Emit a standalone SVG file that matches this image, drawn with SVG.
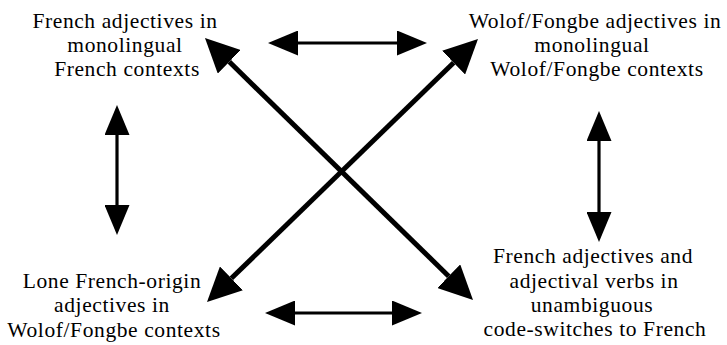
<svg xmlns="http://www.w3.org/2000/svg" width="727" height="345" viewBox="0 0 727 345">
<style>
.t{font-family:'Liberation Serif',Tinos,'DejaVu Serif',serif;font-size:21.5px;letter-spacing:0.6px;fill:#000;text-anchor:middle}
.thin{stroke:#000;stroke-width:3.2;fill:none}
.thick{stroke:#000;stroke-width:5;fill:none}
</style>
<defs>
<marker id="hs" markerUnits="userSpaceOnUse" viewBox="0 0 30 25" refX="0" refY="12.5" markerWidth="30" markerHeight="25" orient="auto-start-reverse"><path d="M0,0 L30,12.5 L0,25 z" fill="#000"/></marker>
<marker id="hl" markerUnits="userSpaceOnUse" viewBox="0 0 34 33" refX="0" refY="16.5" markerWidth="34" markerHeight="33" orient="auto-start-reverse"><path d="M0,0 L34,16.5 L0,33 z" fill="#000"/></marker>
</defs>
<g id="n1" class="t" font-family="Liberation Serif, serif">
<text x="125" y="28">French adjectives in</text>
<text x="125" y="52">monolingual</text>
<text x="127" y="76">French contexts</text>
</g>
<g id="n2" class="t" font-family="Liberation Serif, serif">
<text x="595" y="28">Wolof/Fongbe adjectives in</text>
<text x="592" y="52">monolingual</text>
<text x="597" y="76">Wolof/Fongbe contexts</text>
</g>
<g id="n3" class="t" font-family="Liberation Serif, serif">
<text x="112" y="288">Lone French-origin</text>
<text x="112" y="312">adjectives in</text>
<text x="114" y="337">Wolof/Fongbe contexts</text>
</g>
<g id="n4" class="t" font-family="Liberation Serif, serif">
<text x="593" y="263">French adjectives and</text>
<text x="594" y="288">adjectival verbs in</text>
<text x="592" y="312">unambiguous</text>
<text x="595" y="336">code-switches to French</text>
</g>
<g id="connectors">
<line class="thin" x1="298" y1="43" x2="397" y2="43" marker-start="url(#hs)" marker-end="url(#hs)"/>
<line class="thin" x1="295" y1="313" x2="392" y2="313" marker-start="url(#hs)" marker-end="url(#hs)"/>
<line class="thin" x1="117" y1="135" x2="117" y2="205" marker-start="url(#hs)" marker-end="url(#hs)"/>
<line class="thin" x1="599" y1="141" x2="599" y2="212" marker-start="url(#hs)" marker-end="url(#hs)"/>
<line class="thick" x1="229.3" y1="61.8" x2="448.7" y2="276.2" marker-start="url(#hl)" marker-end="url(#hl)"/>
<line class="thick" x1="453.6" y1="62.7" x2="231.4" y2="278.3" marker-start="url(#hl)" marker-end="url(#hl)"/>
</g>
</svg>
